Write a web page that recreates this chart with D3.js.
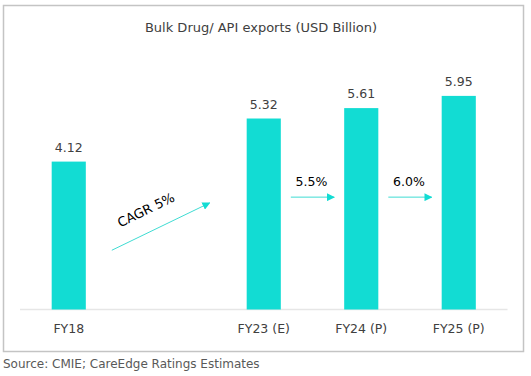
<!DOCTYPE html>
<html>
<head>
<meta charset="utf-8">
<script src="https://cdn.jsdelivr.net/npm/d3@7"></script>
<style>
  body { margin: 0; background: #fff; }
  text { font-family: "DejaVu Sans", Verdana, sans-serif; }
</style>
</head>
<body>
<svg id="chart" width="531" height="376"></svg>
<script>
// data
let categories = ["FY18", "", "FY23 (E)", "FY24 (P)", "FY25 (P)"];
let values = [4.12, null, 5.32, 5.61, 5.95];
let valueLabels = ["4.12", "", "5.32", "5.61", "5.95"];
let growthLabels = ["CAGR 5%", "5.5%", "6.0%"];

let svg = d3.select('#chart');

// outer frame
svg.append('rect')
  .attr('x', 3.5).attr('y', 5.5)
  .attr('width', 520).attr('height', 346)
  .attr('fill', '#fff')
  .attr('stroke', '#c4c4c4')
  .attr('stroke-width', 1.5);

let x = d3.scaleBand()
  .domain(d3.range(categories.length))
  .range([20, 507.5])
  .paddingInner(0.65)
  .paddingOuter(0.325);

let y = d3.scaleLinear()
  .domain([0, 7])
  .range([309.5, 58.2]);

let barColor = '#12dcd3';
let arrowColor = '#3fdcd3';

// title
svg.append('text')
  .attr('x', 261).attr('y', 32)
  .attr('text-anchor', 'middle')
  .style('font-size', '13px')
  .attr('fill', '#404040')
  .text('Bulk Drug/ API exports (USD Billion)');

// baseline
svg.append('line')
  .attr('x1', 20).attr('x2', 507.5)
  .attr('y1', y(0)).attr('y2', y(0))
  .attr('stroke', '#e6e6e6')
  .attr('stroke-width', 1.5);

let data = categories.map((c, i) => ({i: i, cat: c, v: values[i], lab: valueLabels[i]}));
let withVal = data.filter(d => d.v != null);

svg.selectAll('.bar')
  .data(withVal)
  .enter().append('rect')
  .attr('class', 'bar')
  .attr('x', d => x(d.i))
  .attr('y', d => y(d.v))
  .attr('width', x.bandwidth())
  .attr('height', d => y(0) - y(d.v))
  .attr('fill', barColor);

svg.selectAll('.vlab')
  .data(withVal)
  .enter().append('text')
  .attr('class', 'vlab')
  .attr('x', d => x(d.i) + x.bandwidth() / 2)
  .attr('y', d => y(d.v) - 10)
  .attr('text-anchor', 'middle')
  .style('font-size', '12.5px')
  .attr('fill', '#404040')
  .text(d => d.lab);

// category axis labels
svg.selectAll('.cat')
  .data(data)
  .enter().append('text')
  .attr('class', 'cat')
  .attr('x', d => x(d.i) + x.bandwidth() / 2)
  .attr('y', 333)
  .attr('text-anchor', 'middle')
  .style('font-size', '12.5px')
  .attr('fill', '#404040')
  .text(d => d.cat);

// arrows
let defs = svg.append('defs');
defs.append('marker')
  .attr('id', 'head')
  .attr('viewBox', '0 0 10 10')
  .attr('refX', 9).attr('refY', 5)
  .attr('markerWidth', 8).attr('markerHeight', 8)
  .attr('markerUnits', 'userSpaceOnUse')
  .attr('orient', 'auto')
  .append('path')
  .attr('d', 'M0,0 L10,5 L0,10 Z')
  .attr('fill', barColor);

// CAGR arrow across the gap slot
let cagrX1 = x(0) + x.bandwidth() + 26, cagrX2 = x(2) - 37;
let cagrY1 = y(1.65), cagrY2 = y(2.97);
svg.append('line')
  .attr('x1', cagrX1).attr('y1', cagrY1)
  .attr('x2', cagrX2).attr('y2', cagrY2)
  .attr('stroke', arrowColor).attr('stroke-width', 1)
  .attr('marker-end', 'url(#head)');
let ang = Math.atan2(cagrY2 - cagrY1, cagrX2 - cagrX1) * 180 / Math.PI;
svg.append('text')
  .attr('transform', 'translate(' + 148 + ',' + 214 + ') rotate(' + ang + ')')
  .attr('text-anchor', 'middle')
  .style('font-size', '13px')
  .attr('fill', '#000')
  .text(growthLabels[0]);

// year on year arrows
[[2, 3, growthLabels[1]], [3, 4, growthLabels[2]]].forEach(function(p) {
  let x1 = x(p[0]) + x.bandwidth() + 10;
  let x2 = x(p[1]) - 10;
  let yy = y(3.13);
  svg.append('line')
    .attr('x1', x1).attr('y1', yy)
    .attr('x2', x2).attr('y2', yy)
    .attr('stroke', arrowColor).attr('stroke-width', 1)
    .attr('marker-end', 'url(#head)');
  svg.append('text')
    .attr('x', (x1 + x2) / 2 - 1)
    .attr('y', yy - 11)
    .attr('text-anchor', 'middle')
    .style('font-size', '12.5px')
    .attr('fill', '#000')
    .text(p[2]);
});

// source
svg.append('text')
  .attr('x', 3).attr('y', 368)
  .style('font-size', '12px')
  .attr('fill', '#595959')
  .text('Source: CMIE; CareEdge Ratings Estimates');
</script>
</body>
</html>
